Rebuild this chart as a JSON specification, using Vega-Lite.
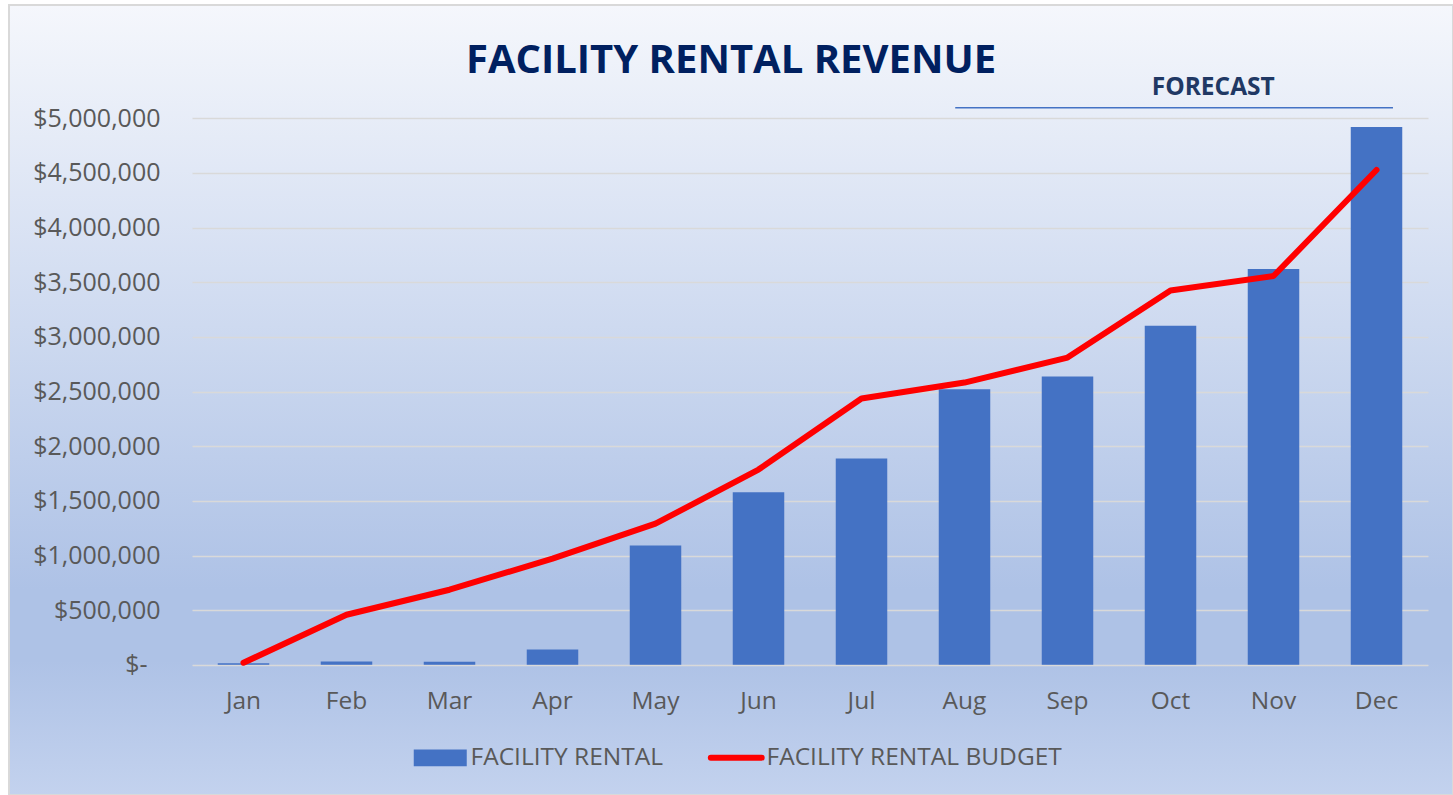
{
  "$schema": "https://vega.github.io/schema/vega-lite/v6.json",
  "width": 1444,
  "height": 790,
  "autosize": {"type": "none"},
  "padding": {"left": 9, "top": 5, "right": 0, "bottom": 0},
  "background": "#ffffff",
  "config": {
    "font": "Open Sans",
    "view": {
      "fill": {
        "gradient": "linear",
        "x1": 0, "y1": 0, "x2": 0, "y2": 1,
        "stops": [
          {"offset": 0, "color": "#f5f7fc"},
          {"offset": 0.74, "color": "#aec2e6"},
          {"offset": 0.83, "color": "#aec2e6"},
          {"offset": 1, "color": "#c3d2ee"}
        ]
      },
      "stroke": "#d9d9d9",
      "strokeWidth": 2
    }
  },
  "title": {
    "text": "FACILITY RENTAL REVENUE",
    "font": "Open Sans",
    "fontSize": 40,
    "fontWeight": "bold",
    "color": "#002060",
    "anchor": "middle",
    "frame": "group",
    "baseline": "alphabetic",
    "offset": -108
  },
  "data": {
    "values": [
      {"month": "Jan", "rental": 15000, "budget": 19000},
      {"month": "Feb", "rental": 30000, "budget": 458000},
      {"month": "Mar", "rental": 28000, "budget": 687000},
      {"month": "Apr", "rental": 140000, "budget": 971000},
      {"month": "May", "rental": 1092000, "budget": 1291000},
      {"month": "Jun", "rental": 1578000, "budget": 1786000},
      {"month": "Jul", "rental": 1887000, "budget": 2436000},
      {"month": "Aug", "rental": 2520000, "budget": 2582000},
      {"month": "Sep", "rental": 2638000, "budget": 2811000},
      {"month": "Oct", "rental": 3103000, "budget": 3425000},
      {"month": "Nov", "rental": 3621000, "budget": 3557000},
      {"month": "Dec", "rental": 4920000, "budget": 4527000}
    ]
  },
  "layer": [
    {
      "mark": {"type": "bar", "color": "#4472c4"},
      "encoding": {
        "x": {
          "field": "month",
          "type": "ordinal",
          "sort": null,
          "scale": {
            "domain": ["Jan","Feb","Mar","Apr","May","Jun","Jul","Aug","Sep","Oct","Nov","Dec"],
            "range": [183, 1419],
            "paddingInner": 0.5,
            "paddingOuter": 0.25
          },
          "axis": {
            "orient": "bottom",
            "offset": -130.2,
            "title": null,
            "labelAngle": 0,
            "labelFont": "Open Sans",
            "labelFontSize": 24.5,
            "labelColor": "#595959",
            "labelPadding": 25,
            "domain": false,
            "ticks": false,
            "tickSize": 0,
            "grid": false
          }
        },
        "y": {
          "field": "rental",
          "type": "quantitative",
          "scale": {"domain": [0, 5000000], "range": [659.8, 113.3], "nice": false, "zero": true},
          "axis": {
            "orient": "left",
            "offset": -183,
            "title": null,
            "values": [0, 500000, 1000000, 1500000, 2000000, 2500000, 3000000, 3500000, 4000000, 4500000, 5000000],
            "labelExpr": "datum.value === 0 ? '$-' : format(datum.value, '$,.0f')",
            "labelFont": "Open Sans",
            "labelFontSize": 25,
            "labelColor": "#595959",
            "labelPadding": {"condition": {"test": "datum.value === 0", "value": 45}, "value": 32},
            "domain": false,
            "ticks": false,
            "tickSize": 0,
            "grid": true,
            "gridColor": "#d9d9d9",
            "gridWidth": 1.5
          }
        },
        "color": {
          "datum": "FACILITY RENTAL",
          "scale": {
            "domain": ["FACILITY RENTAL", "FACILITY RENTAL BUDGET"],
            "range": ["#4472c4", "#ff0000"]
          },
          "legend": {
            "orient": "none",
            "legendX": 419,
            "legendY": 740,
            "direction": "horizontal",
            "title": null,
            "padding": 0,
            "labelFont": "Open Sans",
            "labelFontSize": 24.5,
            "labelColor": "#595959",
            "labelOffset": 18,
            "labelLimit": 600,
            "columnPadding": 34,
            "symbolSize": 2809,
            "encode": {
              "symbols": {
                "update": {
                  "shape": {"signal": "datum.value === 'FACILITY RENTAL' ? 'M-1,-0.32H1V0.32H-1Z' : 'M-0.96,0H0.96'"},
                  "size": {"value": 2809},
                  "fill": {"signal": "datum.value === 'FACILITY RENTAL' ? '#4472c4' : 'transparent'"},
                  "stroke": {"signal": "datum.value === 'FACILITY RENTAL' ? 'transparent' : '#ff0000'"},
                  "strokeWidth": {"signal": "datum.value === 'FACILITY RENTAL' ? 0 : 6"},
                  "strokeCap": {"value": "round"},
                  "opacity": {"value": 1},
                  "fillOpacity": {"value": 1},
                  "strokeOpacity": {"value": 1}
                }
              }
            }
          }
        }
      }
    },
    {
      "mark": {"type": "line", "strokeWidth": 6, "strokeCap": "round", "strokeJoin": "round"},
      "encoding": {
        "x": {"field": "month", "type": "ordinal", "sort": null, "axis": {"title": null}},
        "y": {"field": "budget", "type": "quantitative", "axis": {"title": null}},
        "color": {"datum": "FACILITY RENTAL BUDGET"}
      }
    },
    {
      "data": {"values": [{"label": "FORECAST"}]},
      "mark": {"type": "rule", "color": "#4472c4", "strokeWidth": 1.5},
      "encoding": {
        "x": {"datum": "Aug", "type": "ordinal", "bandPosition": 0.32, "axis": {"title": null}},
        "x2": {"datum": "Dec", "bandPosition": 0.82},
        "y": {"datum": 5097000, "type": "quantitative", "axis": {"title": null}}
      }
    },
    {
      "data": {"values": [{"label": "FORECAST"}]},
      "mark": {"type": "text", "font": "Open Sans", "fontSize": 24.5, "fontWeight": "bold", "color": "#203864", "align": "center", "baseline": "alphabetic"},
      "encoding": {
        "x": {"datum": "Oct", "type": "ordinal", "bandPosition": 1.33, "axis": {"title": null}},
        "y": {"datum": 5213000, "type": "quantitative", "axis": {"title": null}},
        "text": {"field": "label"}
      }
    }
  ]
}
